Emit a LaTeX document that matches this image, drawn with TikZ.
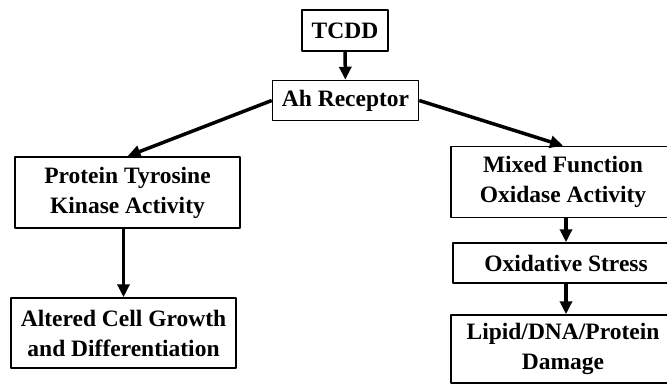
\documentclass[tikz,border=0pt]{standalone}
\usepackage{fontspec}
\setmainfont{Liberation Serif}
\usetikzlibrary{arrows.meta,positioning}
\tikzset{blk/.style={draw,line width=1.5pt,align=center,inner sep=0pt,font=\fontsize{23.5}{30}\selectfont\bfseries}}
\tikzset{arr/.style={->,line width=3.5pt}}

\begin{document}
\begin{tikzpicture}[x=1pt,y=-1pt,>={Triangle[length=13pt,width=12pt]},line join=round]
\useasboundingbox (0,0) rectangle (667,385);
% --- top of the chain
\node[blk,minimum width=86,minimum height=41] (tcdd) at (345,30.5) {TCDD};
\node[blk,minimum width=146,minimum height=40] (ahr) at (345.5,100.5) {Ah Receptor};
% --- left branch
\node[blk,minimum width=225,minimum height=71] (ptk) at (127.5,192.5) {Protein Tyrosine\\Kinase Activity};
\node[blk,minimum width=225,minimum height=70] (acg) at (123.5,333) {Altered Cell Growth\\and Differentiation};
% --- right branch (cut by the page edge)
\node[blk,minimum width=224,minimum height=71] (mfo) at (563,182) {Mixed Function\\Oxidase Activity};
\node[blk,minimum width=226,minimum height=40] (oxs) at (566,263) {Oxidative Stress};
\node[blk,minimum width=224,minimum height=68] (ldp) at (563,349) {Lipid/DNA/Protein\\Damage};
\draw[arr] (tcdd) -- (ahr);
\draw[arr] (ahr.west) -- (ptk.north);
\draw[arr] (ahr.east) -- (mfo.north);
\draw[arr] (acg.north |- ptk.south) -- (acg.north);
\draw[arr] (oxs.north |- mfo.south) -- (oxs.north);
\draw[arr] (oxs.south) -- (oxs.south |- ldp.north);
\end{tikzpicture}
\end{document}
